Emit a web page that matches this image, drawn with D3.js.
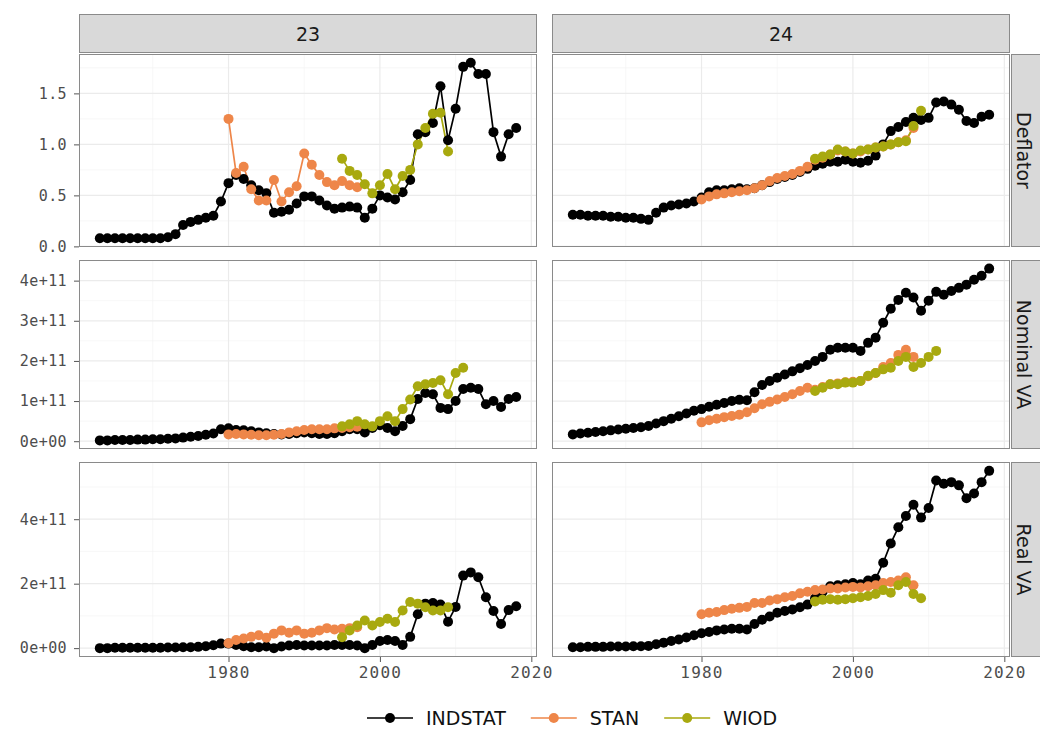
<!DOCTYPE html>
<html><head><meta charset="utf-8">
<script src="https://cdn.jsdelivr.net/npm/d3@7"></script>
<style>body{margin:0;background:#fff;} svg{display:block;}</style>
</head><body>
<svg id="chart" width="1040" height="754"></svg>
<script>
// ---------------- DATA ----------------
const COLUMNS = ["23", "24"];
const ROWS = ["Deflator", "Nominal VA", "Real VA"];
const SOURCES = ["INDSTAT", "STAN", "WIOD"];
const E11 = 1e11; // nominal / real values below are in units of 1e11

const INDSTAT_YEARS = [1963,1964,1965,1966,1967,1968,1969,1970,1971,1972,1973,1974,1975,1976,1977,1978,1979,
  1980,1981,1982,1983,1984,1985,1986,1987,1988,1989,1990,1991,1992,1993,1994,1995,1996,1997,1998,1999,
  2000,2001,2002,2003,2004,2005,2006,2007,2008,2009,2010,2011,2012,2013,2014,2015,2016,2017,2018];
const STAN23_YEARS = [1980,1981,1982,1983,1984,1985,1986,1987,1988,1989,1990,1991,1992,1993,1994,1995,1996,1997];
const STAN24_YEARS = [1980,1981,1982,1983,1984,1985,1986,1987,1988,1989,1990,1991,1992,1993,1994,1995,1996,1997,
  1998,1999,2000,2001,2002,2003,2004,2005,2006,2007,2008];
const WIOD_YEARS_SHORT = [1995,1996,1997,1998,1999,2000,2001,2002,2003,2004,2005,2006,2007,2008,2009];
const WIOD_YEARS_LONG = [1995,1996,1997,1998,1999,2000,2001,2002,2003,2004,2005,2006,2007,2008,2009,2010,2011];

// Sector 23
const INDSTAT_23_DEFLATOR = [0.08,0.08,0.08,0.08,0.08,0.08,0.08,0.08,0.08,0.09,
  0.12,0.21,0.24,0.26,0.28,0.30,0.44,
  0.62,0.70,0.66,0.60,0.55,0.52,0.33,0.34,0.36,0.42,
  0.49,0.49,0.45,0.40,0.37,0.38,0.39,0.38,0.28,0.37,
  0.50,0.48,0.46,0.53,0.65,1.10,1.12,1.21,1.57,1.04,
  1.35,1.76,1.80,1.69,1.69,1.12,0.88,1.10,1.16];
const INDSTAT_23_NOMINAL = [0.02,0.02,0.03,0.03,0.03,0.04,0.04,0.05,0.05,0.06,
  0.07,0.09,0.11,0.13,0.16,0.19,0.30,
  0.32,0.28,0.27,0.25,0.22,0.20,0.18,0.17,0.18,0.20,
  0.22,0.20,0.18,0.18,0.20,0.25,0.30,0.30,0.22,0.33,
  0.40,0.33,0.25,0.38,0.55,1.05,1.20,1.17,0.83,0.80,
  1.00,1.30,1.33,1.30,0.92,1.00,0.85,1.05,1.10];
const INDSTAT_23_REAL = [0.00,0.00,0.01,0.01,0.01,0.01,0.01,0.01,0.01,0.02,
  0.02,0.03,0.03,0.04,0.06,0.09,0.14,
  0.14,0.10,0.06,0.03,0.03,0.05,0.00,0.05,0.08,0.10,
  0.08,0.08,0.08,0.08,0.10,0.10,0.10,0.08,0.00,0.10,
  0.22,0.25,0.22,0.10,0.35,1.05,1.38,1.40,1.35,0.82,
  1.28,2.25,2.35,2.20,1.58,1.15,0.75,1.18,1.30];
const STAN_23_DEFLATOR = [1.25,0.72,0.78,0.56,0.45,0.45,0.65,0.44,0.53,0.59,0.91,0.80,0.70,0.63,0.60,0.64,0.60,0.58];
const STAN_23_NOMINAL = [0.17,0.18,0.17,0.16,0.15,0.15,0.16,0.18,0.22,0.25,0.28,0.30,0.30,0.30,0.32,0.33,0.35,0.36];
const STAN_23_REAL = [0.15,0.25,0.30,0.35,0.40,0.32,0.45,0.55,0.48,0.55,0.45,0.48,0.55,0.62,0.58,0.60,0.62,0.65];
const WIOD_23_DEFLATOR = [0.86,0.74,0.70,0.61,0.52,0.60,0.71,0.56,0.69,0.75,1.00,1.16,1.30,1.31,0.93];
const WIOD_23_NOMINAL = [0.37,0.42,0.50,0.42,0.37,0.50,0.62,0.50,0.80,1.04,1.37,1.42,1.45,1.52,1.17,1.70,1.83];
const WIOD_23_REAL = [0.34,0.55,0.70,0.86,0.70,0.81,0.91,0.81,1.17,1.43,1.38,1.27,1.17,1.17,1.27];

// Sector 24
const INDSTAT_24_DEFLATOR = [0.31,0.31,0.30,0.30,0.30,0.29,0.29,0.28,0.28,0.27,
  0.26,0.33,0.38,0.40,0.41,0.42,0.44,
  0.48,0.53,0.55,0.55,0.56,0.57,0.56,0.57,0.60,0.63,
  0.66,0.68,0.70,0.73,0.76,0.79,0.81,0.83,0.83,0.85,
  0.83,0.82,0.84,0.89,1.00,1.13,1.17,1.22,1.26,1.24,
  1.26,1.41,1.42,1.39,1.34,1.23,1.21,1.27,1.29];
const INDSTAT_24_NOMINAL = [0.17,0.19,0.21,0.23,0.25,0.27,0.29,0.31,0.33,0.35,
  0.38,0.44,0.50,0.56,0.62,0.69,0.76,
  0.80,0.86,0.91,0.95,1.00,1.03,1.02,1.22,1.40,1.50,
  1.58,1.66,1.74,1.82,1.90,2.00,2.10,2.28,2.33,2.33,
  2.33,2.25,2.45,2.58,2.95,3.30,3.52,3.70,3.58,3.25,
  3.50,3.72,3.65,3.74,3.82,3.90,4.02,4.12,4.30];
const INDSTAT_24_REAL = [0.03,0.03,0.04,0.04,0.04,0.05,0.05,0.05,0.06,0.06,
  0.07,0.12,0.17,0.22,0.27,0.33,0.40,
  0.46,0.50,0.55,0.58,0.60,0.60,0.58,0.75,0.88,0.98,
  1.10,1.15,1.20,1.27,1.35,1.55,1.75,1.92,1.95,1.98,
  2.02,1.98,2.10,2.15,2.65,3.25,3.75,4.10,4.45,4.05,
  4.35,5.20,5.10,5.15,5.05,4.65,4.80,5.15,5.50];
const STAN_24_DEFLATOR = [0.46,0.49,0.51,0.52,0.53,0.54,0.55,0.57,0.60,0.64,
  0.67,0.69,0.71,0.74,0.78,0.85,0.87,0.90,0.94,0.93,
  0.91,0.93,0.95,0.97,0.98,1.00,1.02,1.04,1.16];
const STAN_24_NOMINAL = [0.47,0.52,0.56,0.60,0.63,0.66,0.72,0.82,0.92,0.98,
  1.04,1.10,1.17,1.25,1.33,1.28,1.35,1.42,1.44,1.47,
  1.48,1.50,1.62,1.70,1.85,1.95,2.15,2.28,2.10];
const STAN_24_REAL = [1.05,1.10,1.12,1.18,1.22,1.25,1.28,1.40,1.40,1.48,
  1.52,1.58,1.62,1.70,1.75,1.80,1.82,1.85,1.85,1.88,
  1.90,1.88,1.92,1.95,2.02,2.05,2.10,2.20,1.95];
const WIOD_24_DEFLATOR = [0.86,0.88,0.90,0.95,0.93,0.91,0.94,0.95,0.97,0.98,1.00,1.02,1.03,1.18,1.33];
const WIOD_24_NOMINAL = [1.25,1.33,1.42,1.42,1.46,1.46,1.50,1.63,1.70,1.79,1.83,2.00,2.10,1.85,1.95,2.10,2.25];
const WIOD_24_REAL = [1.45,1.50,1.52,1.50,1.52,1.55,1.58,1.62,1.68,1.80,1.72,1.95,2.05,1.68,1.55];

const X_TICKS = [1980, 2000, 2020];
const X_MINOR = [1960, 1970, 1990, 2010];
const Y_TICKS = {
  "Deflator": [0, 0.5, 1.0, 1.5],
  "Nominal VA": [0, 1e11, 2e11, 3e11, 4e11],
  "Real VA": [0, 2e11, 4e11]
};

// ---------------- SERIES TABLE ----------------
const series = [
  {src:"INDSTAT", col:"23", row:"Deflator",   years:INDSTAT_YEARS, vals:INDSTAT_23_DEFLATOR, unit:1},
  {src:"INDSTAT", col:"23", row:"Nominal VA", years:INDSTAT_YEARS, vals:INDSTAT_23_NOMINAL, unit:E11},
  {src:"INDSTAT", col:"23", row:"Real VA",    years:INDSTAT_YEARS, vals:INDSTAT_23_REAL, unit:E11},
  {src:"STAN", col:"23", row:"Deflator",   years:STAN23_YEARS, vals:STAN_23_DEFLATOR, unit:1},
  {src:"STAN", col:"23", row:"Nominal VA", years:STAN23_YEARS, vals:STAN_23_NOMINAL, unit:E11},
  {src:"STAN", col:"23", row:"Real VA",    years:STAN23_YEARS, vals:STAN_23_REAL, unit:E11},
  {src:"WIOD", col:"23", row:"Deflator",   years:WIOD_YEARS_SHORT, vals:WIOD_23_DEFLATOR, unit:1},
  {src:"WIOD", col:"23", row:"Nominal VA", years:WIOD_YEARS_LONG,  vals:WIOD_23_NOMINAL, unit:E11},
  {src:"WIOD", col:"23", row:"Real VA",    years:WIOD_YEARS_SHORT, vals:WIOD_23_REAL, unit:E11},
  {src:"INDSTAT", col:"24", row:"Deflator",   years:INDSTAT_YEARS, vals:INDSTAT_24_DEFLATOR, unit:1},
  {src:"INDSTAT", col:"24", row:"Nominal VA", years:INDSTAT_YEARS, vals:INDSTAT_24_NOMINAL, unit:E11},
  {src:"INDSTAT", col:"24", row:"Real VA",    years:INDSTAT_YEARS, vals:INDSTAT_24_REAL, unit:E11},
  {src:"STAN", col:"24", row:"Deflator",   years:STAN24_YEARS, vals:STAN_24_DEFLATOR, unit:1},
  {src:"STAN", col:"24", row:"Nominal VA", years:STAN24_YEARS, vals:STAN_24_NOMINAL, unit:E11},
  {src:"STAN", col:"24", row:"Real VA",    years:STAN24_YEARS, vals:STAN_24_REAL, unit:E11},
  {src:"WIOD", col:"24", row:"Deflator",   years:WIOD_YEARS_SHORT, vals:WIOD_24_DEFLATOR, unit:1},
  {src:"WIOD", col:"24", row:"Nominal VA", years:WIOD_YEARS_LONG,  vals:WIOD_24_NOMINAL, unit:E11},
  {src:"WIOD", col:"24", row:"Real VA",    years:WIOD_YEARS_SHORT, vals:WIOD_24_REAL, unit:E11}
].map(s => ({...s, pts: s.years.map((y, i) => ({year: y, value: s.vals[i] * s.unit}))}));

// ---------------- STYLE / LAYOUT ----------------
const COLORS = {INDSTAT: "#000000", STAN: "#EE8649", WIOD: "#A8A90F"};
const COL_X = {"23": [79, 537], "24": [552, 1010]};
const ROW_Y = {"Deflator": [54, 247], "Nominal VA": [260, 449], "Real VA": [462, 657]};
const STRIP_TOP = [14, 53];
const RIGHT_STRIP_X = [1011, 1047];
const BORDER = "#8a8a8a";
const AXIS_FONT = "'DejaVu Sans Mono', monospace";
const TEXT_FONT = "'DejaVu Sans', sans-serif";

const svg = d3.select("#chart");
svg.append("rect").attr("width", 1040).attr("height", 754).attr("fill", "#fff");

function expand(ext) {
  const span = ext[1] - ext[0];
  return [ext[0] - 0.05 * span, ext[1] + 0.05 * span];
}

const allYears = series.flatMap(s => s.years);
const xDomain = expand(d3.extent(allYears));
const xScales = {};
COLUMNS.forEach(c => { xScales[c] = d3.scaleLinear().domain(xDomain).range(COL_X[c]); });

const yScales = {};
ROWS.forEach(r => {
  const vals = series.filter(s => s.row === r).flatMap(s => s.pts.map(p => p.value));
  yScales[r] = d3.scaleLinear().domain(expand(d3.extent(vals))).range([ROW_Y[r][1], ROW_Y[r][0]]);
});

function sciFormat(v) {
  if (v === 0) return "0e+00";
  return d3.format(".0e")(v);
}
const Y_FORMAT = {"Deflator": d3.format(".1f"), "Nominal VA": sciFormat, "Real VA": sciFormat};

function minorTicks(ticks, domain) {
  const step = ticks[1] - ticks[0];
  const out = [];
  for (let v = ticks[0] - step / 2; v <= domain[1]; v += step) {
    if (v >= domain[0]) out.push(v);
  }
  return out;
}

// ---------------- PANELS ----------------
ROWS.forEach(r => {
  COLUMNS.forEach(c => {
    const x = xScales[c], y = yScales[r];
    const [x0, x1] = COL_X[c];
    const [y0, y1] = ROW_Y[r];
    const g = svg.append("g");
    g.append("rect").attr("x", x0).attr("y", y0).attr("width", x1 - x0).attr("height", y1 - y0).attr("fill", "#fff");

    // minor grid
    const yMinor = minorTicks(Y_TICKS[r], y.domain());
    g.selectAll(null).data(yMinor).join("line")
      .attr("x1", x0).attr("x2", x1).attr("y1", d => y(d)).attr("y2", d => y(d))
      .attr("stroke", "#f3f3f3").attr("stroke-width", 0.7);
    g.selectAll(null).data(X_MINOR.filter(v => v >= xDomain[0] && v <= xDomain[1])).join("line")
      .attr("y1", y0).attr("y2", y1).attr("x1", d => x(d)).attr("x2", d => x(d))
      .attr("stroke", "#f3f3f3").attr("stroke-width", 0.7);
    // major grid
    g.selectAll(null).data(Y_TICKS[r]).join("line")
      .attr("x1", x0).attr("x2", x1).attr("y1", d => y(d)).attr("y2", d => y(d))
      .attr("stroke", "#ebebeb").attr("stroke-width", 1.2);
    g.selectAll(null).data(X_TICKS.filter(v => v >= xDomain[0] && v <= xDomain[1])).join("line")
      .attr("y1", y0).attr("y2", y1).attr("x1", d => x(d)).attr("x2", d => x(d))
      .attr("stroke", "#ebebeb").attr("stroke-width", 1.2);

    const panelSeries = series.filter(s => s.row === r && s.col === c);
    const line = d3.line().x(d => x(d.year)).y(d => y(d.value));
    // lines first (all sources), then points
    SOURCES.forEach(src => {
      panelSeries.filter(s => s.src === src).forEach(s => {
        g.append("path").datum(s.pts).attr("d", line)
          .attr("fill", "none").attr("stroke", COLORS[src]).attr("stroke-width", 1.7)
          .attr("stroke-linejoin", "round");
      });
    });
    SOURCES.forEach(src => {
      panelSeries.filter(s => s.src === src).forEach(s => {
        g.selectAll(null).data(s.pts).join("circle")
          .attr("cx", d => x(d.year)).attr("cy", d => y(d.value)).attr("r", 5)
          .attr("fill", COLORS[src]);
      });
    });

    g.append("rect").attr("x", x0 + 0.5).attr("y", y0 + 0.5).attr("width", x1 - x0 - 1).attr("height", y1 - y0 - 1)
      .attr("fill", "none").attr("stroke", BORDER).attr("stroke-width", 1);

    // y axis (left column only)
    if (c === COLUMNS[0]) {
      const ax = svg.append("g").attr("transform", `translate(${x0},0)`)
        .call(d3.axisLeft(y).tickValues(Y_TICKS[r]).tickFormat(Y_FORMAT[r]).tickSize(5).tickPadding(7));
      ax.select(".domain").remove();
      ax.selectAll(".tick line").attr("stroke", "#555");
      ax.selectAll(".tick text").attr("fill", "#4d4d4d").style("font-family", AXIS_FONT)
        .style("font-size", "15px").style("letter-spacing", "0.4px");
    }
    // x axis (bottom row only)
    if (r === ROWS[ROWS.length - 1]) {
      const ax = svg.append("g").attr("transform", `translate(0,${y1})`)
        .call(d3.axisBottom(x).tickValues(X_TICKS).tickFormat(d3.format("d")).tickSize(5).tickPadding(5));
      ax.select(".domain").remove();
      ax.selectAll(".tick line").attr("stroke", "#555");
      ax.selectAll(".tick text").attr("fill", "#4d4d4d").style("font-family", AXIS_FONT)
        .style("font-size", "16px").style("letter-spacing", "1.2px");
    }
  });
});

// ---------------- STRIPS ----------------
COLUMNS.forEach(c => {
  const [x0, x1] = COL_X[c];
  svg.append("rect").attr("x", x0 + 0.5).attr("y", STRIP_TOP[0] + 0.5).attr("width", x1 - x0 - 1)
    .attr("height", STRIP_TOP[1] - STRIP_TOP[0] - 1).attr("fill", "#d9d9d9").attr("stroke", BORDER);
  svg.append("text").attr("x", (x0 + x1) / 2).attr("y", (STRIP_TOP[0] + STRIP_TOP[1]) / 2)
    .attr("text-anchor", "middle").attr("dominant-baseline", "central")
    .style("font-family", TEXT_FONT).style("font-size", "19px").attr("fill", "#1a1a1a").text(c);
});
ROWS.forEach(r => {
  const [y0, y1] = ROW_Y[r];
  svg.append("rect").attr("x", RIGHT_STRIP_X[0] + 0.5).attr("y", y0 + 0.5)
    .attr("width", RIGHT_STRIP_X[1] - RIGHT_STRIP_X[0]).attr("height", y1 - y0 - 1)
    .attr("fill", "#d9d9d9").attr("stroke", BORDER);
  const cx = 1024, cy = (y0 + y1) / 2;
  svg.append("text").attr("transform", `translate(${cx},${cy}) rotate(90)`)
    .attr("text-anchor", "middle").attr("dominant-baseline", "central")
    .style("font-family", TEXT_FONT).style("font-size", "19px").attr("fill", "#1a1a1a").text(r);
});

// ---------------- LEGEND ----------------
const legend = svg.append("g");
let lx = 367;
const ly = 718;
SOURCES.forEach(src => {
  legend.append("line").attr("x1", lx).attr("x2", lx + 46).attr("y1", ly).attr("y2", ly)
    .attr("stroke", COLORS[src]).attr("stroke-width", 1.7);
  legend.append("circle").attr("cx", lx + 23).attr("cy", ly).attr("r", 5).attr("fill", COLORS[src]);
  const t = legend.append("text").attr("x", lx + 59).attr("y", ly + 7)
    .style("font-family", TEXT_FONT).style("font-size", "19px").attr("fill", "#111").text(src);
  lx = lx + 59 + t.node().getComputedTextLength() + 25;
});
</script>
</body></html>
